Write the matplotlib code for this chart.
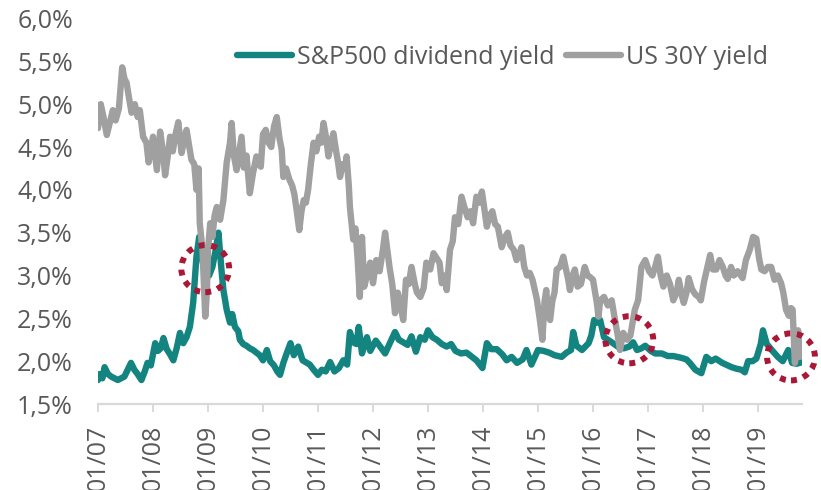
import numpy as np
import matplotlib
matplotlib.use('Agg')
import matplotlib.pyplot as plt
from matplotlib.patches import Ellipse
from matplotlib.ticker import FuncFormatter

plt.rcParams['font.family'] = ['Open Sans', 'DejaVu Sans']

# US 30Y treasury yield (%), time in decimal years
t_30y = [2007.00, 2007.05, 2007.10, 2007.16, 2007.22, 2007.27, 2007.32, 2007.38, 2007.44, 2007.48,
         2007.52, 2007.57, 2007.61, 2007.67, 2007.72, 2007.76, 2007.82, 2007.88, 2007.92, 2008.00,
         2008.07, 2008.13, 2008.18, 2008.22, 2008.27, 2008.31, 2008.36, 2008.41, 2008.46, 2008.52,
         2008.57, 2008.61, 2008.66, 2008.70, 2008.75, 2008.79, 2008.83, 2008.85, 2008.90, 2008.95,
         2008.98, 2009.00, 2009.04, 2009.08, 2009.12, 2009.16, 2009.22, 2009.28, 2009.34, 2009.40,
         2009.43, 2009.47, 2009.52, 2009.57, 2009.61, 2009.65, 2009.70, 2009.76, 2009.82, 2009.88,
         2009.93, 2009.96, 2010.00, 2010.05, 2010.10, 2010.15, 2010.20, 2010.25, 2010.30, 2010.34,
         2010.37, 2010.42, 2010.48, 2010.53, 2010.57, 2010.61, 2010.66, 2010.70, 2010.74, 2010.78,
         2010.82, 2010.87, 2010.92, 2010.97, 2011.02, 2011.06, 2011.10, 2011.15, 2011.19, 2011.24,
         2011.28, 2011.33, 2011.37, 2011.40, 2011.45, 2011.49, 2011.52, 2011.56, 2011.58, 2011.64,
         2011.68, 2011.72, 2011.76, 2011.80, 2011.84, 2011.89, 2011.95, 2012.00, 2012.06, 2012.12,
         2012.18, 2012.22, 2012.26, 2012.30, 2012.35, 2012.40, 2012.45, 2012.50, 2012.55, 2012.60,
         2012.65, 2012.70, 2012.76, 2012.80, 2012.86, 2012.92, 2012.97, 2013.04, 2013.10, 2013.16,
         2013.21, 2013.25, 2013.30, 2013.34, 2013.40, 2013.45, 2013.49, 2013.55, 2013.61, 2013.66,
         2013.72, 2013.77, 2013.82, 2013.88, 2013.93, 2013.98, 2014.02, 2014.07, 2014.12, 2014.17,
         2014.22, 2014.27, 2014.34, 2014.40, 2014.45, 2014.50, 2014.56, 2014.61, 2014.66, 2014.70,
         2014.75, 2014.80, 2014.85, 2014.90, 2014.98, 2015.03, 2015.08, 2015.12, 2015.15, 2015.18,
         2015.22, 2015.26, 2015.30, 2015.34, 2015.40, 2015.46, 2015.50, 2015.55, 2015.58, 2015.63,
         2015.67, 2015.72, 2015.78, 2015.85, 2015.90, 2015.95, 2016.00, 2016.04, 2016.07, 2016.10,
         2016.13, 2016.20, 2016.27, 2016.34, 2016.40, 2016.45, 2016.49, 2016.55, 2016.62, 2016.68,
         2016.76, 2016.82, 2016.88, 2016.95, 2017.02, 2017.08, 2017.13, 2017.18, 2017.23, 2017.28,
         2017.34, 2017.40, 2017.46, 2017.52, 2017.56, 2017.61, 2017.65, 2017.70, 2017.74, 2017.80,
         2017.86, 2017.92, 2017.96, 2018.02, 2018.08, 2018.13, 2018.18, 2018.24, 2018.30, 2018.36,
         2018.41, 2018.45, 2018.51, 2018.56, 2018.63, 2018.72, 2018.78, 2018.85, 2018.91, 2018.97,
         2019.02, 2019.06, 2019.12, 2019.18, 2019.24, 2019.30, 2019.36, 2019.42, 2019.46, 2019.51,
         2019.56, 2019.60, 2019.63, 2019.67, 2019.70, 2019.73, 2019.76, 2019.80]
us30y = [4.72, 5.00, 4.85, 4.64, 4.80, 4.93, 4.81, 4.95, 5.43, 5.30,
         5.25, 5.05, 4.90, 5.00, 4.85, 4.93, 4.62, 4.55, 4.32, 4.62,
         4.23, 4.68, 4.45, 4.17, 4.40, 4.62, 4.45, 4.65, 4.79, 4.43,
         4.60, 4.70, 4.50, 4.35, 4.30, 4.00, 4.25, 3.61, 3.30, 2.52,
         2.80, 3.30, 3.61, 3.45, 3.70, 3.80, 3.65, 3.88, 4.32, 4.55,
         4.78, 4.40, 4.23, 4.45, 4.62, 4.26, 4.40, 3.96, 4.20, 4.39,
         4.30, 4.27, 4.65, 4.70, 4.55, 4.50, 4.74, 4.85, 4.60, 4.47,
         4.15, 4.25, 4.12, 4.05, 3.95, 3.77, 3.53, 3.75, 3.88, 3.85,
         4.00, 4.30, 4.55, 4.45, 4.62, 4.55, 4.78, 4.60, 4.39, 4.55,
         4.66, 4.45, 4.30, 4.15, 4.30, 4.25, 4.39, 4.05, 3.80, 3.42,
         3.55, 3.20, 2.75, 3.45, 2.87, 3.00, 3.15, 2.91, 3.18, 3.05,
         3.30, 3.50, 3.30, 3.10, 2.90, 2.56, 2.80, 2.65, 2.48, 2.95,
         2.90, 3.10, 2.90, 2.80, 2.75, 2.85, 3.15, 3.07, 3.26, 3.20,
         3.15, 2.91, 3.00, 2.83, 3.30, 3.40, 3.68, 3.60, 3.92, 3.80,
         3.68, 3.75, 3.61, 3.92, 3.85, 3.98, 3.80, 3.57, 3.70, 3.75,
         3.60, 3.57, 3.33, 3.45, 3.50, 3.35, 3.30, 3.18, 3.25, 3.33,
         3.10, 3.00, 3.03, 2.95, 2.72, 2.50, 2.25, 2.70, 2.83, 2.55,
         2.48, 2.70, 2.80, 3.07, 3.10, 3.22, 3.10, 2.95, 2.83, 3.00,
         3.07, 2.87, 2.90, 3.10, 3.00, 2.98, 2.95, 2.80, 2.68, 2.52,
         2.71, 2.75, 2.65, 2.71, 2.48, 2.30, 2.13, 2.33, 2.25, 2.30,
         2.60, 2.71, 3.10, 3.18, 3.05, 3.00, 3.10, 3.22, 3.00, 2.87,
         3.00, 2.90, 2.71, 2.80, 2.95, 2.78, 2.68, 2.80, 2.97, 2.84,
         2.78, 2.75, 2.71, 2.93, 3.10, 3.24, 3.07, 3.07, 3.18, 3.10,
         3.00, 2.96, 3.10, 3.00, 3.05, 2.97, 3.18, 3.30, 3.45, 3.43,
         3.20, 3.07, 3.05, 3.10, 3.10, 2.95, 3.00, 2.91, 2.80, 2.60,
         2.53, 2.62, 2.60, 1.98, 2.10, 2.36, 2.05, 2.15]

# S&P500 dividend yield (%)
t_div = [2007.00, 2007.03, 2007.08, 2007.12, 2007.18, 2007.24, 2007.30, 2007.36, 2007.42, 2007.48,
         2007.54, 2007.60, 2007.66, 2007.72, 2007.79, 2007.85, 2007.90, 2007.96, 2008.04, 2008.09,
         2008.14, 2008.19, 2008.25, 2008.31, 2008.37, 2008.43, 2008.49, 2008.55, 2008.61, 2008.67,
         2008.73, 2008.79, 2008.84, 2008.89, 2008.95, 2009.02, 2009.08, 2009.14, 2009.19, 2009.24,
         2009.28, 2009.34, 2009.40, 2009.44, 2009.49, 2009.55, 2009.58, 2009.64, 2009.70, 2009.76,
         2009.82, 2009.88, 2009.94, 2010.00, 2010.07, 2010.13, 2010.20, 2010.26, 2010.31, 2010.37,
         2010.43, 2010.50, 2010.56, 2010.64, 2010.72, 2010.80, 2010.85, 2010.92, 2011.00, 2011.07,
         2011.14, 2011.22, 2011.30, 2011.38, 2011.46, 2011.53, 2011.58, 2011.64, 2011.70, 2011.74,
         2011.80, 2011.89, 2011.95, 2012.05, 2012.12, 2012.22, 2012.30, 2012.40, 2012.47, 2012.55,
         2012.63, 2012.70, 2012.78, 2012.86, 2012.94, 2013.00, 2013.08, 2013.16, 2013.25, 2013.34,
         2013.42, 2013.50, 2013.60, 2013.70, 2013.80, 2013.88, 2013.99, 2014.07, 2014.15, 2014.25,
         2014.35, 2014.43, 2014.52, 2014.62, 2014.72, 2014.79, 2014.88, 2015.00, 2015.10, 2015.20,
         2015.30, 2015.43, 2015.52, 2015.60, 2015.64, 2015.70, 2015.80, 2015.92, 2015.97, 2016.02,
         2016.08, 2016.13, 2016.20, 2016.34, 2016.45, 2016.56, 2016.66, 2016.73, 2016.80, 2016.88,
         2016.95, 2017.05, 2017.13, 2017.25, 2017.36, 2017.46, 2017.60, 2017.70, 2017.76, 2017.86,
         2017.97, 2018.06, 2018.15, 2018.23, 2018.35, 2018.45, 2018.52, 2018.62, 2018.70, 2018.76,
         2018.82, 2018.90, 2018.97, 2019.05, 2019.09, 2019.16, 2019.25, 2019.36, 2019.45, 2019.55,
         2019.62, 2019.70, 2019.76, 2019.80]
sp_div = [1.78, 1.85, 1.80, 1.93, 1.85, 1.82, 1.80, 1.78, 1.80, 1.82,
          1.90, 1.98, 1.90, 1.85, 1.78, 1.88, 1.98, 1.95, 2.21, 2.12,
          2.15, 2.27, 2.14, 2.08, 2.01, 2.15, 2.33, 2.21, 2.28, 2.40,
          2.68, 3.22, 3.45, 3.22, 2.98, 3.00, 3.10, 3.30, 3.50, 3.10,
          2.83, 2.60, 2.45, 2.55, 2.40, 2.35, 2.25, 2.20, 2.18, 2.15,
          2.13, 2.10, 2.07, 2.01, 2.13, 2.00, 1.95, 1.88, 1.84, 1.98,
          2.09, 2.21, 2.07, 2.17, 2.01, 1.98, 1.96, 1.90, 1.84, 1.90,
          1.88, 1.99, 1.88, 1.92, 2.01, 1.96, 2.34, 2.22, 2.20, 2.40,
          2.09, 2.28, 2.12, 2.24, 2.18, 2.09, 2.20, 2.34, 2.25, 2.22,
          2.19, 2.29, 2.11, 2.28, 2.25, 2.36, 2.28, 2.25, 2.20, 2.17,
          2.20, 2.12, 2.09, 2.10, 2.05, 2.01, 1.92, 2.21, 2.14, 2.14,
          2.08, 2.01, 2.05, 1.98, 2.02, 2.13, 1.96, 2.13, 2.12, 2.10,
          2.07, 2.05, 2.10, 2.13, 2.34, 2.18, 2.13, 2.21, 2.30, 2.48,
          2.45, 2.48, 2.28, 2.22, 2.17, 2.15, 2.17, 2.22, 2.13, 2.15,
          2.18, 2.12, 2.09, 2.09, 2.06, 2.06, 2.04, 2.02, 1.98, 1.90,
          1.86, 2.05, 2.00, 2.03, 1.98, 1.95, 1.93, 1.91, 1.90, 1.87,
          2.00, 2.00, 2.03, 2.20, 2.36, 2.20, 2.13, 2.05, 2.00, 2.13,
          1.98, 1.97, 1.98, 1.99]

# years shown on the x axis
years = list(range(2007, 2020))
year_labels = ['01/%02d' % (y % 100) for y in years]

# highlighted crossings (centre year, centre yield)
circle_x = [2008.95, 2016.66, 2019.60]
circle_y = [3.08, 2.25, 2.05]

teal = '#148480'
grey = '#A0A0A0'
txt = '#595959'

fig = plt.figure(figsize=(8.21, 4.9), dpi=100)
ax = fig.add_axes([98 / 821, 1 - 404 / 490, (802 - 98) / 821, (404 - 18.5) / 490])

ax.plot(t_div, sp_div, color=teal, lw=4.6, solid_joinstyle='round', solid_capstyle='round',
        label='S&P500 dividend yield')
ax.plot(t_30y, us30y, color=grey, lw=4.6, solid_joinstyle='round', solid_capstyle='round',
        label='US 30Y yield')

for cx, cy in zip(circle_x, circle_y):
    e = Ellipse((cx, cy), 0.87, 0.55, fill=False, edgecolor='#AA1838', lw=4.3,
                linestyle=(0, (1, 1.1)), clip_on=False, zorder=5)
    ax.add_patch(e)

ax.set_xlim(2007.0, 2019.8)
ax.set_ylim(1.5, 6.0)
ax.set_yticks(np.arange(1.5, 6.01, 0.5))
ax.yaxis.set_major_formatter(FuncFormatter(lambda v, p: ('%.1f%%' % v).replace('.', ',')))
ax.set_xticks(years)
ax.set_xticklabels(year_labels, rotation=90, va='top', ha='center')

for s in ['top', 'right', 'left']:
    ax.spines[s].set_visible(False)
ax.spines['bottom'].set_color('#D9D9D9')
ax.spines['bottom'].set_linewidth(1.6)
ax.tick_params(axis='y', length=0, pad=18, labelsize=18, labelcolor=txt)
ax.tick_params(axis='x', length=6, width=1.4, color='#D9D9D9', direction='out',
               pad=9, labelsize=18, labelcolor=txt)

leg = fig.legend(loc='center left', bbox_to_anchor=(237 / 821, 1 - 57 / 490), ncol=2,
                 frameon=False, fontsize=18, handlelength=2.2, handletextpad=0.2,
                 columnspacing=0.45, borderpad=0, borderaxespad=0)
for t in leg.get_texts():
    t.set_color(txt)

fig.savefig('out.png', dpi=100)
